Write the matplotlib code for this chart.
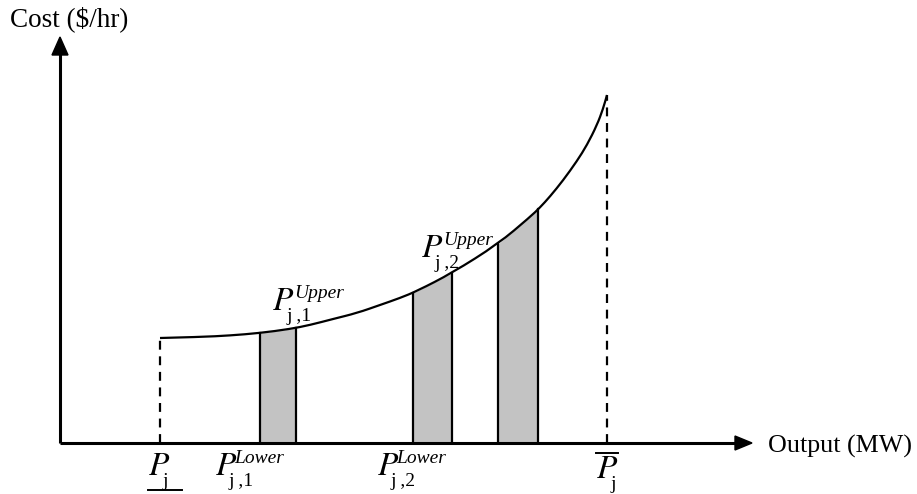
import matplotlib.pyplot as plt
from matplotlib.path import Path
from matplotlib.patches import PathPatch
import numpy as np

plt.rcParams['mathtext.fontset'] = 'stix'
plt.rcParams['font.family'] = 'Liberation Serif'

# cost curve (output, cost) in sketch units
curve_x = np.array([100, 140, 170, 200, 230, 250, 273, 297, 320, 340, 357, 392, 438,
                    470, 480, 490, 503, 517, 527, 537, 543, 547])
curve_y = np.array([105, 106, 107.5, 110, 114, 118, 124, 130, 138, 145, 152, 170, 199,
                    226, 235.5, 246.5, 262.5, 282, 298, 318, 334, 348])

# shaded segments (lower, upper)
seg_lo = [200, 353, 438]
seg_hi = [236, 392, 478]

p_min = 100
p_max = 547

fig = plt.figure(figsize=(9.17, 4.94), dpi=100)
ax = fig.add_axes([0, 0, 1, 1])
ax.set_xlim(-60, 857)
ax.set_ylim(-51, 443)
ax.axis('off')

# axes with arrows
ax.plot([0, 675], [0, 0], color='black', lw=2.2, solid_capstyle='butt')
ax.plot([0, 0], [0, 390], color='black', lw=2.2, solid_capstyle='butt')
ax.fill([675, 692, 675], [7, 0, -7], color='black')
ax.fill([-8, 0, 8], [388, 406, 388], color='black')

# segments under the curve
for lo, hi in zip(seg_lo, seg_hi):
    xs = np.linspace(lo, hi, 30)
    ys = np.interp(xs, curve_x, curve_y)
    ax.fill_between(xs, 0, ys, color='#c3c3c3', lw=0)
    ax.plot([lo, lo], [0, ys[0]], color='black', lw=1.6)
    ax.plot([hi, hi], [0, ys[-1]], color='black', lw=1.6)

# smooth the read points with quadratic bezier pieces
pts = np.column_stack([curve_x, curve_y])
verts = [pts[0]]
codes = [Path.MOVETO]
for i in range(1, len(pts) - 1):
    verts += [pts[i], (pts[i] + pts[i + 1]) / 2]
    codes += [Path.CURVE3, Path.CURVE3]
verts.append(pts[-1])
codes.append(Path.LINETO)
ax.add_patch(PathPatch(Path(verts, codes), fill=False, color='black', lw=1.6))

# limits
ax.plot([p_min, p_min], [0, curve_y[0]], color='black', lw=1.6, ls=(0, (4, 3)))
ax.plot([p_max, p_max], [0, curve_y[-1]], color='black', lw=1.6, ls=(0, (4, 3)))

ax.text(-50, 417, 'Cost ($/hr)', fontsize=19.5)
ax.text(708, -10, 'Output (MW)', fontsize=18.7)


def plabel(x, y, sub, sup=None, dx_sub=14, dx_sup=22):
    ax.text(x, y, r'$P$', fontsize=24)
    ax.text(x + dx_sub, y - 11, sub, fontsize=14)
    if sup:
        ax.text(x + dx_sup, y + 12, sup, fontsize=14, style='italic')


plabel(212, 133, 'j ,1', 'Upper')
plabel(361, 186, 'j ,2', 'Upper')
plabel(155, -32, 'j ,1', 'Lower', dx_sup=19)
plabel(317, -32, 'j ,2', 'Lower', dx_sup=19)
plabel(88, -32, 'j')
plabel(536, -35, 'j')
ax.plot([88, 122], [-47, -47], color='black', lw=1.4)
ax.plot([536, 558], [-10, -10], color='black', lw=1.4)

fig.savefig('out.png', dpi=100)
